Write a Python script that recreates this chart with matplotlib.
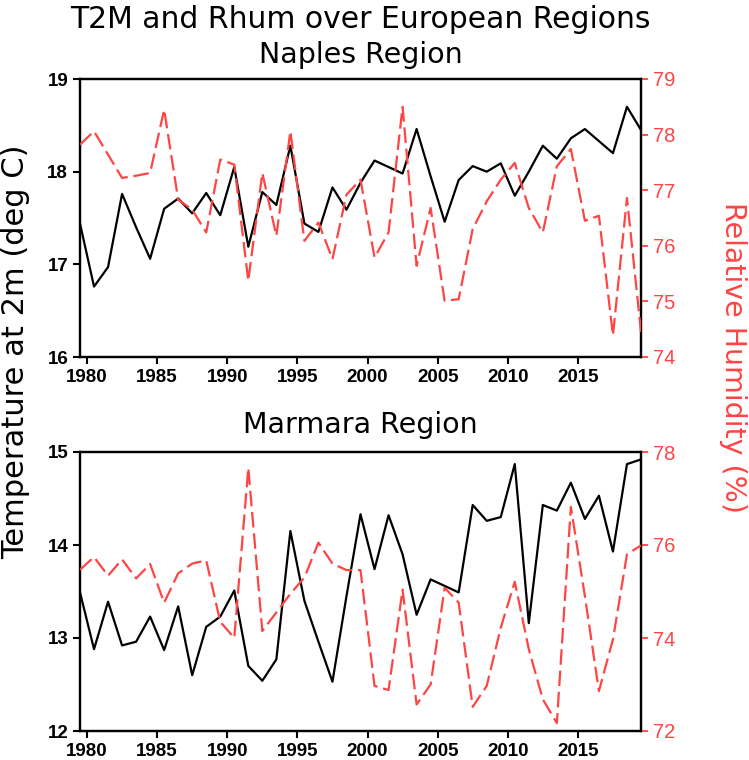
import numpy as np
import matplotlib
matplotlib.use("Agg")
import matplotlib.pyplot as plt

# ---------------- data ----------------
years = np.arange(1979, 2020)

naples_t2m = [17.44, 16.76, 16.97, 17.76, 17.40, 17.06, 17.60, 17.71, 17.55, 17.77,
              17.53, 18.05, 17.19, 17.78, 17.64, 18.28, 17.44, 17.35, 17.83, 17.59,
              17.88, 18.12, 18.05, 17.98, 18.46, 17.95, 17.46, 17.91, 18.06, 18.00,
              18.09, 17.74, 18.00, 18.28, 18.14, 18.36, 18.46, 18.33, 18.20, 18.70,
              18.45]
naples_rh = [77.82, 78.06, 77.64, 77.22, 77.26, 77.31, 78.45, 76.83, 76.65, 76.24,
             77.55, 77.46, 75.37, 77.31, 76.18, 78.06, 76.09, 76.42, 75.76, 76.92,
             77.19, 75.79, 76.24, 78.50, 75.64, 76.68, 75.01, 75.04, 76.30, 76.80,
             77.19, 77.49, 76.68, 76.24, 77.43, 77.74, 76.45, 76.54, 74.39, 76.86,
             74.45]
marmara_t2m = [13.49, 12.88, 13.39, 12.92, 12.96, 13.23, 12.87, 13.34, 12.60, 13.12,
               13.23, 13.51, 12.70, 12.54, 12.77, 14.15, 13.40, 12.96, 12.53, 13.45,
               14.33, 13.74, 14.32, 13.90, 13.25, 13.63, 13.56, 13.49, 14.43, 14.26,
               14.30, 14.87, 13.16, 14.43, 14.37, 14.67, 14.28, 14.53, 13.93, 14.87,
               14.92]
marmara_rh = [75.47, 75.74, 75.34, 75.69, 75.28, 75.59, 74.76, 75.39, 75.60, 75.67,
              74.35, 74.00, 77.66, 74.15, 74.55, 74.95, 75.30, 76.05, 75.60, 75.46,
              75.46, 72.97, 72.88, 75.04, 72.57, 73.00, 75.08, 74.76, 72.52, 72.97,
              74.22, 75.21, 73.76, 72.68, 72.17, 76.82, 74.90, 72.86, 73.97, 75.80,
              75.99]

xticks = [1980, 1985, 1990, 1995, 2000, 2005, 2010, 2015]
naples_tticks = [16, 17, 18, 19]
naples_rticks = [74, 75, 76, 77, 78, 79]
marmara_tticks = [12, 13, 14, 15]
marmara_rticks = [72, 74, 76, 78]

titles = ["Naples Region", "Marmara Region"]
main_title = "T2M and Rhum over European Regions"
left_label = "Temperature at 2m (deg C)"
right_label = "Relative Humidity (%)"

# ---------------- style ----------------
RED = "#ff4444"
W, H = 749, 760
fig = plt.figure(figsize=(W / 100, H / 100), dpi=100)

title_font = dict(family="DejaVu Sans", fontsize=20.5)
tick_font_left = dict(family="Liberation Sans", fontsize=13.5, weight="bold")
tick_font_right = dict(family="Liberation Sans", fontsize=14.5)

x = years + 0.5  # annual means plotted at mid-year

panels = [
    (79, 357, naples_t2m, naples_rh, naples_tticks, naples_rticks, titles[0], 11.5),
    (452, 731, marmara_t2m, marmara_rh, marmara_tticks, marmara_rticks, titles[1], 13.5),
]

for top, bot, tdat, rdat, tt, rt, ttl, pad in panels:
    ax = fig.add_axes([80 / W, 1 - bot / H, (641 - 80) / W, (bot - top) / H])
    ax.plot(x, tdat, color="black", lw=1.6, zorder=3)
    ax.set_xlim(1979.5, 2019.5)
    ax.set_ylim(tt[0], tt[-1])
    ax.set_yticks(tt)
    ax.set_xticks(xticks)
    ax.set_xticklabels([str(v) for v in xticks], **tick_font_left)
    ax.set_yticklabels([str(v) for v in tt], **tick_font_left)
    ax.tick_params(axis="both", direction="out", length=5, width=1.5, pad=3.5, colors="black")
    for s in ax.spines.values():
        s.set_linewidth(1.6)
    ax.set_title(ttl, pad=pad, **title_font)

    ax2 = ax.twinx()
    ax2.plot(x, rdat, color=RED, lw=1.6, linestyle=(0, (7.0, 2.6)), zorder=4)
    ax2.set_ylim(rt[0], rt[-1])
    ax2.set_yticks(rt)
    ax2.set_yticklabels([str(v) for v in rt], **tick_font_right)
    ax2.tick_params(axis="y", direction="out", length=5, width=1.3, pad=3.5,
                    colors=RED, labelcolor=RED)
    for s in ax2.spines.values():
        s.set_linewidth(1.6)
    ax2.spines["right"].set_color("black")

fig.text(360 / W, 1 - 28 / H, main_title, ha="center", va="baseline",
         family="DejaVu Sans", fontsize=21.5)
fig.text(16 / W, 1 - 352 / H, left_label, rotation=90, ha="center", va="center",
         family="DejaVu Sans", fontsize=22)
fig.text(733 / W, 1 - 358 / H, right_label, rotation=270, ha="center", va="center",
         color=RED, **title_font)

fig.savefig("out.png", dpi=100)
